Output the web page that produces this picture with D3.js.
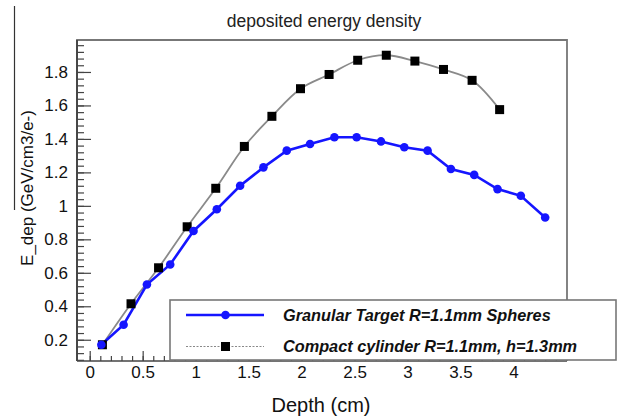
<!DOCTYPE html>
<html>
<head>
<meta charset="utf-8">
<script src="https://cdn.jsdelivr.net/npm/d3@7"></script>
<style>
  html, body { margin: 0; padding: 0; background: #fff; }
  svg { display: block; font-family: "Liberation Sans", Arial, sans-serif; }
</style>
</head>
<body>
<svg id="chart" width="625" height="417"></svg>
<script>
/* deposited energy density – granular target vs compact cylinder */

const W = 625, H = 417;
const margin = { top: 40, right: 58, bottom: 56, left: 77 };

/* ---------- Data ---------- */
const granDepth = [0.11, 0.32, 0.54, 0.76, 0.98, 1.2, 1.42, 1.64, 1.86, 2.08,
                   2.31, 2.52, 2.75, 2.97, 3.19, 3.41, 3.63, 3.85, 4.07, 4.3];
const granEdep  = [0.17, 0.29, 0.53, 0.65, 0.85, 0.98, 1.12, 1.23, 1.33, 1.37,
                   1.41, 1.41, 1.385, 1.35, 1.33, 1.22, 1.185, 1.1, 1.06, 0.93];

const cylDepth = [0.12, 0.39, 0.65, 0.92, 1.19, 1.46, 1.72, 1.99, 2.26, 2.53,
                  2.8, 3.07, 3.34, 3.61, 3.87];
const cylEdep  = [0.17, 0.415, 0.63, 0.875, 1.105, 1.355, 1.535, 1.7, 1.785, 1.87,
                  1.9, 1.865, 1.815, 1.75, 1.575];

const xTicks = [0, 0.5, 1, 1.5, 2, 2.5, 3, 3.5, 4];
const yTicks = [0.2, 0.4, 0.6, 0.8, 1, 1.2, 1.4, 1.6, 1.8];

const TITLE = "deposited energy density";
const X_LABEL = "Depth (cm)";
const Y_LABEL = "E_dep (GeV/cm3/e-)";
const LEGEND_LABELS = [
  "Granular Target R=1.1mm Spheres",
  "Compact cylinder R=1.1mm, h=1.3mm",
];

const X_DOMAIN = [-0.12, 4.506];
const Y_DOMAIN = [0.073, 1.991];

const BLUE = "#1515ff";

/* ---------- Scales ---------- */
const svg = d3.select("#chart");
const x = d3.scaleLinear().domain(X_DOMAIN).range([margin.left, W - margin.right]);
const y = d3.scaleLinear().domain(Y_DOMAIN).range([H - margin.bottom, margin.top]);

const xMinor = d3.range(0, 4.5001, 0.1).filter(v => v > X_DOMAIN[0] && v < X_DOMAIN[1]);
const yMinor = d3.range(0.08, 1.99, 0.04);

svg.append("rect").attr("width", W).attr("height", H).attr("fill", "#fff");

// stray line at the far left of the original picture
svg.append("line")
  .attr("x1", 14.5).attr("x2", 14.5).attr("y1", 6).attr("y2", 210)
  .attr("stroke", "#333").attr("stroke-width", 1.2);

/* ---------- Axes ---------- */
const fmt = d => String(+d.toFixed(1));

const gyMinor = svg.append("g")
  .attr("transform", `translate(${margin.left},0)`)
  .call(d3.axisLeft(y).tickValues(yMinor).tickSize(-7).tickFormat(""));
const gy = svg.append("g")
  .attr("transform", `translate(${margin.left},0)`)
  .call(d3.axisLeft(y).tickValues(yTicks).tickSize(-14).tickPadding(9).tickFormat(fmt));

const gxMinor = svg.append("g")
  .attr("transform", `translate(0,${H - margin.bottom})`)
  .call(d3.axisBottom(x).tickValues(xMinor).tickSize(-5).tickFormat(""));
const gx = svg.append("g")
  .attr("transform", `translate(0,${H - margin.bottom})`)
  .call(d3.axisBottom(x).tickValues(xTicks).tickSize(-10).tickPadding(5).tickFormat(fmt));

for (const g of [gyMinor, gy, gxMinor, gx]) {
  g.select(".domain").remove();
  g.selectAll(".tick line").attr("stroke", "#444").attr("stroke-width", 1.2);
}
for (const g of [gy, gx]) {
  g.selectAll(".tick text")
    .attr("fill", "#111")
    .style("font-size", "17px")
    .style("font-family", "'Liberation Sans', Arial, sans-serif");
}

/* ---------- Frame ---------- */
const x0 = x.range()[0], x1 = x.range()[1];
const y0 = y.range()[0], y1 = y.range()[1];
svg.append("path")
  .attr("d", `M${x0},${y0}V${y1}H${x1}V${y0}`)
  .attr("fill", "none").attr("stroke", "#777").attr("stroke-width", 1.8);
svg.append("line")
  .attr("x1", x0).attr("x2", x0).attr("y1", y1).attr("y2", y0)
  .attr("stroke", "#333").attr("stroke-width", 1.5);
svg.append("line")
  .attr("x1", x0).attr("x2", x1).attr("y1", y0).attr("y2", y0)
  .attr("stroke", "#444").attr("stroke-width", 1.5);

/* ---------- Series ---------- */
const cylData = cylDepth.map((d, i) => ({ x: d, y: cylEdep[i] }));
const granData = granDepth.map((d, i) => ({ x: d, y: granEdep[i] }));

svg.append("path")
  .datum(cylData)
  .attr("fill", "none")
  .attr("stroke", "#8a8a8a")
  .attr("stroke-width", 1.8)
  .attr("d", d3.line().x(d => x(d.x)).y(d => y(d.y)).curve(d3.curveCatmullRom));

svg.append("path")
  .datum(granData)
  .attr("fill", "none")
  .attr("stroke", BLUE)
  .attr("stroke-width", 2.6)
  .attr("d", d3.line().x(d => x(d.x)).y(d => y(d.y)));

const sq = 9;
svg.append("g").selectAll("rect")
  .data(cylData)
  .join("rect")
  .attr("x", d => x(d.x) - sq / 2)
  .attr("y", d => y(d.y) - sq / 2)
  .attr("width", sq).attr("height", sq)
  .attr("fill", "#000");

svg.append("g").selectAll("circle")
  .data(granData)
  .join("circle")
  .attr("cx", d => x(d.x))
  .attr("cy", d => y(d.y))
  .attr("r", 4.3)
  .attr("fill", BLUE);

/* ---------- Legend ---------- */
const leg = { x: 170, y: 300, w: 446, h: 60 };
svg.append("rect")
  .attr("x", leg.x).attr("y", leg.y).attr("width", leg.w).attr("height", leg.h)
  .attr("fill", "#fff").attr("stroke", "#777").attr("stroke-width", 1.6);

const rows = [
  { label: LEGEND_LABELS[0], cy: 315 },
  { label: LEGEND_LABELS[1], cy: 346.5 },
];
// blue entry
svg.append("line")
  .attr("x1", 186).attr("x2", 264).attr("y1", rows[0].cy).attr("y2", rows[0].cy)
  .attr("stroke", BLUE).attr("stroke-width", 2.4);
svg.append("circle").attr("cx", 225.5).attr("cy", rows[0].cy).attr("r", 4.3).attr("fill", BLUE);
// black entry
svg.append("line")
  .attr("x1", 186).attr("x2", 264).attr("y1", rows[1].cy).attr("y2", rows[1].cy)
  .attr("stroke", "#888").attr("stroke-width", 1).attr("stroke-dasharray", "2,1.5");
svg.append("rect")
  .attr("x", 225.5 - sq / 2).attr("y", rows[1].cy - sq / 2)
  .attr("width", sq).attr("height", sq).attr("fill", "#000");

svg.selectAll("text.leg")
  .data(rows)
  .join("text")
  .attr("class", "leg")
  .attr("x", 283)
  .attr("y", d => d.cy + 5.5)
  .attr("fill", "#111")
  .style("font-size", "16.3px")
  .style("font-weight", "bold")
  .style("font-style", "italic")
  .text(d => d.label);

/* ---------- Titles ---------- */
svg.append("text")
  .attr("x", 324).attr("y", 27)
  .attr("text-anchor", "middle")
  .attr("fill", "#222")
  .style("font-size", "17.5px")
  .text(TITLE);

svg.append("text")
  .attr("x", 321).attr("y", 412)
  .attr("text-anchor", "middle")
  .attr("fill", "#111")
  .style("font-size", "20px")
  .text(X_LABEL);

svg.append("text")
  .attr("transform", "translate(33,188) rotate(-90)")
  .attr("text-anchor", "middle")
  .attr("fill", "#111")
  .style("font-size", "17px")
  .text(Y_LABEL);
</script>
</body>
</html>
